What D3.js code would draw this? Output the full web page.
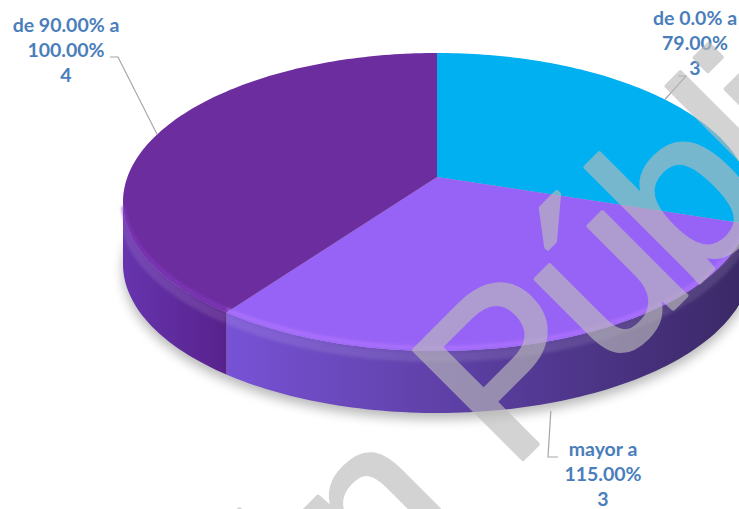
<!DOCTYPE html>
<html lang="es">
<head>
<meta charset="utf-8">
<title>Pie 3D</title>
<script src="https://cdn.jsdelivr.net/npm/d3@7"></script>
<style>
  body { margin: 0; background: #fff; }
  svg { display: block; }
  .lbl { font-family: Lato, "Open Sans", sans-serif; font-weight: bold; font-size: 19.5px; fill: #4A7EBB; }
  .wm { font-family: "Liberation Sans", Arial, sans-serif; font-size: 224px; fill: #BBBBBB; stroke: #BBBBBB; stroke-width: 4px; stroke-linejoin: round; }
</style>
</head>
<body>
<div id="viz"></div>
<script>
// data
var categories = ["de 0.0% a 79.00%", "mayor a 115.00%", "de 90.00% a 100.00%"];
var values = [3, 3, 4];
var watermark = ["Versión", "Pública"];

// style
var topColors = ["#00B0F0", "#9763F6", "#6C2D9F"];
var sideColors = [["#0090C8", "#007AAA"], ["#7852D6", "#3A2865"], ["#6634AE", "#58228C"]];

var w = 739, h = 509;
var cx = 437, cy = 202, rx = 314, ry = 149, persp = -0.168, depth = 62;

// label layout (Excel places these by hand, so do we)
var labelPos = [
  {x: 695, y: 25, lead: [[686, 76], [678, 76]]},
  {x: 603, y: 456, lead: [[548, 457], [558, 457]], bottom: true},
  {x: 66, y: 32, lead: [[118, 57], [110, 57]]}
];

var svg = d3.select("#viz").append("svg")
  .attr("width", w).attr("height", h);

var defs = svg.append("defs");
defs.append("filter").attr("id", "blur").attr("x", "-20%").attr("y", "-20%").attr("width", "140%").attr("height", "140%")
  .append("feGaussianBlur").attr("stdDeviation", 6);
defs.append("filter").attr("id", "soft")
  .append("feGaussianBlur").attr("stdDeviation", 1.5);

// circle -> tilted ellipse with a bit of perspective
function proj(theta, r, z) {
  var u = r * Math.sin(theta), v = -r * Math.cos(theta);
  var k = 1 + persp * v;
  return [cx + rx * u * Math.sqrt(1 - persp * persp) / k, cy + ry * (v + persp) / k + (z || 0)];
}

function arcPts(a0, a1, z) {
  var n = Math.max(2, Math.ceil((a1 - a0) / 0.02)), pts = [];
  for (var i = 0; i <= n; i++) pts.push(proj(a0 + (a1 - a0) * i / n, 1, z));
  return pts;
}

var line = d3.line();
var slices = d3.pie().sort(null)(values);

// angles where the rim turns from back to front
var thL = Math.acos(persp), thR = 2 * Math.PI - thL;

// shadow
svg.append("path")
  .attr("d", line(arcPts(0, 2 * Math.PI, depth + 6)) + "Z")
  .attr("fill", "#000").attr("opacity", 0.28)
  .attr("filter", "url(#blur)");

// sides
slices.forEach(function(s, i) {
  var a0 = Math.max(s.startAngle, thL), a1 = Math.min(s.endAngle, thR);
  if (a1 <= a0) return;
  var p0 = proj(a0, 1), p1 = proj(a1, 1);
  var g = defs.append("linearGradient").attr("id", "side" + i)
    .attr("gradientUnits", "userSpaceOnUse")
    .attr("x1", Math.min(p0[0], p1[0])).attr("x2", Math.max(p0[0], p1[0])).attr("y1", 0).attr("y2", 0);
  g.append("stop").attr("offset", 0).attr("stop-color", sideColors[i][0]);
  g.append("stop").attr("offset", 1).attr("stop-color", sideColors[i][1]);
  var top = arcPts(a0, a1, 0), bot = arcPts(a0, a1, depth).reverse();
  svg.append("path")
    .attr("d", line(top.concat(bot)) + "Z")
    .attr("fill", "url(#side" + i + ")");
  // light band just under the rim
  svg.append("path")
    .attr("d", line(arcPts(a0, a1, 6)))
    .attr("fill", "none").attr("stroke", "#fff").attr("stroke-opacity", 0.1)
    .attr("stroke-width", 10).attr("filter", "url(#soft)");
});

// tops
slices.forEach(function(s, i) {
  var pts = [proj(0, 0)].concat(arcPts(s.startAngle, s.endAngle, 0));
  svg.append("path")
    .attr("d", line(pts) + "Z")
    .attr("fill", topColors[i]);
});

// bevel highlight on the front rim
slices.forEach(function(s, i) {
  var a0 = Math.max(s.startAngle, thL + 0.05), a1 = Math.min(s.endAngle, thR - 0.05);
  if (a1 <= a0) return;
  svg.append("path")
    .attr("d", line(arcPts(a0, a1, -3)))
    .attr("fill", "none").attr("stroke", d3.color(topColors[i]).brighter(0.5))
    .attr("stroke-opacity", 0.7).attr("stroke-width", 4).attr("filter", "url(#soft)");
});

// labels + leader lines
slices.forEach(function(s, i) {
  var mid = (s.startAngle + s.endAngle) / 2;
  var lp = labelPos[i];
  var start = proj(mid, 1, lp.bottom ? depth + 8 : 0);
  svg.append("path")
    .attr("d", line([start].concat(lp.lead)))
    .attr("fill", "none").attr("stroke", "#A6A6A6").attr("stroke-width", 1.2);

  var cat = categories[i], cut = cat.lastIndexOf(" ");
  var lines = [cat.slice(0, cut), cat.slice(cut + 1), String(values[i])];
  var t = svg.append("text").attr("class", "lbl").attr("text-anchor", "middle");
  lines.forEach(function(l, j) {
    t.append("tspan").attr("x", lp.x).attr("y", lp.y + j * 24.8).text(l);
  });
});

// watermark
var wm = svg.append("g").attr("opacity", 0.64)
  .attr("transform", "translate(510,472) rotate(-45)");
wm.append("text").attr("class", "wm").attr("text-anchor", "end").attr("x", -62).text(watermark[0]);
wm.append("text").attr("class", "wm").attr("x", 0).attr("letter-spacing", -10).text(watermark[1]);
</script>
</body>
</html>
